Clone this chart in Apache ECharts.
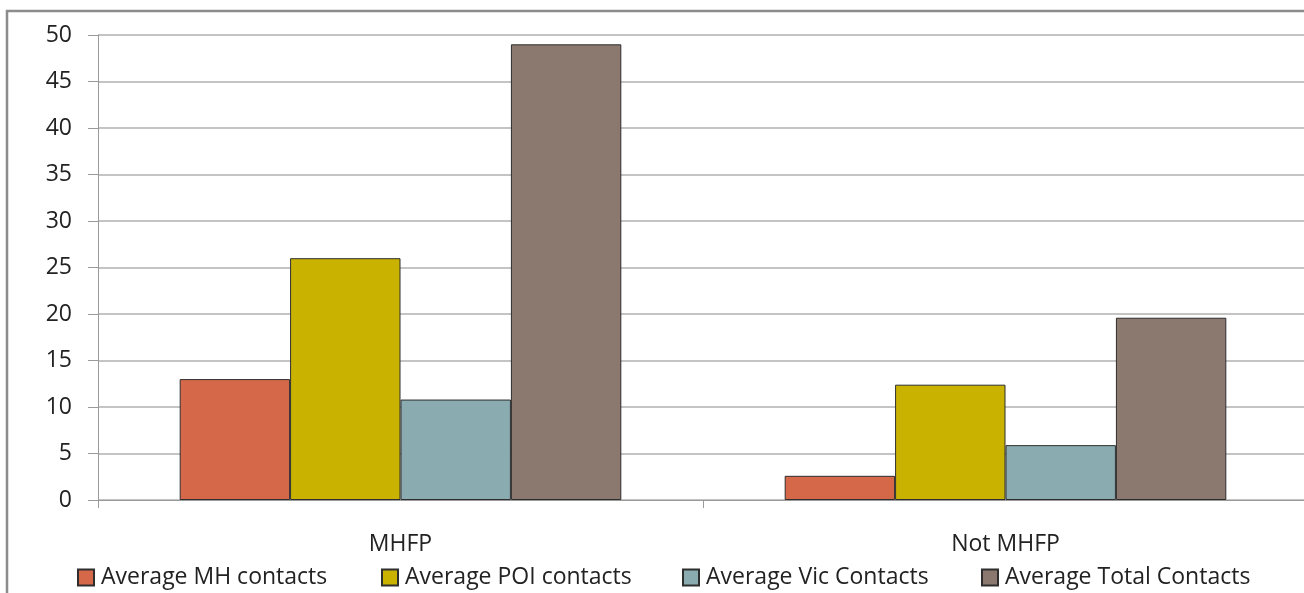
<!DOCTYPE html>
<html>
<head>
<meta charset="utf-8">
<script src="https://cdn.jsdelivr.net/npm/echarts@6/dist/echarts.min.js"></script>
<style>html,body{margin:0;padding:0;background:#fff;overflow:hidden;}#c{width:1308px;height:593px;}</style>
</head>
<body>
<div id="c"></div>
<script>
const categories = ['MHFP', 'Not MHFP'];
const seriesNames = ['Average MH contacts', 'Average POI contacts', 'Average Vic Contacts', 'Average Total Contacts'];
const mhContacts = [13, 2.6];
const poiContacts = [26, 12.4];
const vicContacts = [10.8, 5.9];
const totalContacts = [49, 19.6];
const colors = ['#D6684A', '#C9B200', '#8AABB0', '#8B786E'];
const FONT = 'Open Sans';

const chart = echarts.init(document.getElementById('c'));
const dataSets = [mhContacts, poiContacts, vicContacts, totalContacts];
const legendLeft = [77, 381, 682, 981];
chart.setOption({
  animation: false,
  backgroundColor: '#fff',
  graphic: [{
    type: 'rect', shape: {x: 7, y: 11, width: 1310, height: 600},
    style: {fill: 'none', stroke: '#8c8c8c', lineWidth: 2.5}, silent: true, z: -1
  }],
  grid: {left: 98, top: 35, height: 465, right: 0, containLabel: false},
  legend: seriesNames.map((n, i) => ({
    data: [n], left: legendLeft[i], top: 566, itemWidth: 16, itemHeight: 16, itemGap: 4,
    icon: 'rect', padding: 0,
    textStyle: {fontFamily: FONT, fontSize: 23, color: '#222', padding: [0, 0, 0, 2]}
  })),
  xAxis: {
    type: 'category', data: categories,
    axisLine: {lineStyle: {color: '#9a9a9a', width: 1}},
    axisTick: {show: true, interval: 0, length: 8, lineStyle: {color: '#9a9a9a'}},
    axisLabel: {fontFamily: FONT, fontSize: 23, color: '#222', margin: 33}
  },
  yAxis: {
    type: 'value', min: 0, max: 50, interval: 5,
    axisLine: {show: true, lineStyle: {color: '#9a9a9a', width: 1}},
    axisTick: {show: true, length: 10, lineStyle: {color: '#9a9a9a'}},
    axisLabel: {fontFamily: FONT, fontSize: 23, color: '#222', margin: 26},
    splitLine: {lineStyle: {color: '#b0b0b0', width: 1.5}}
  },
  series: seriesNames.map((n, i) => ({
    name: n, type: 'bar', data: dataSets[i],
    barGap: '0%', barCategoryGap: '27%',
    itemStyle: {color: colors[i], borderColor: '#2e2e2e', borderWidth: 1}
  }))
});
</script>
</body>
</html>
